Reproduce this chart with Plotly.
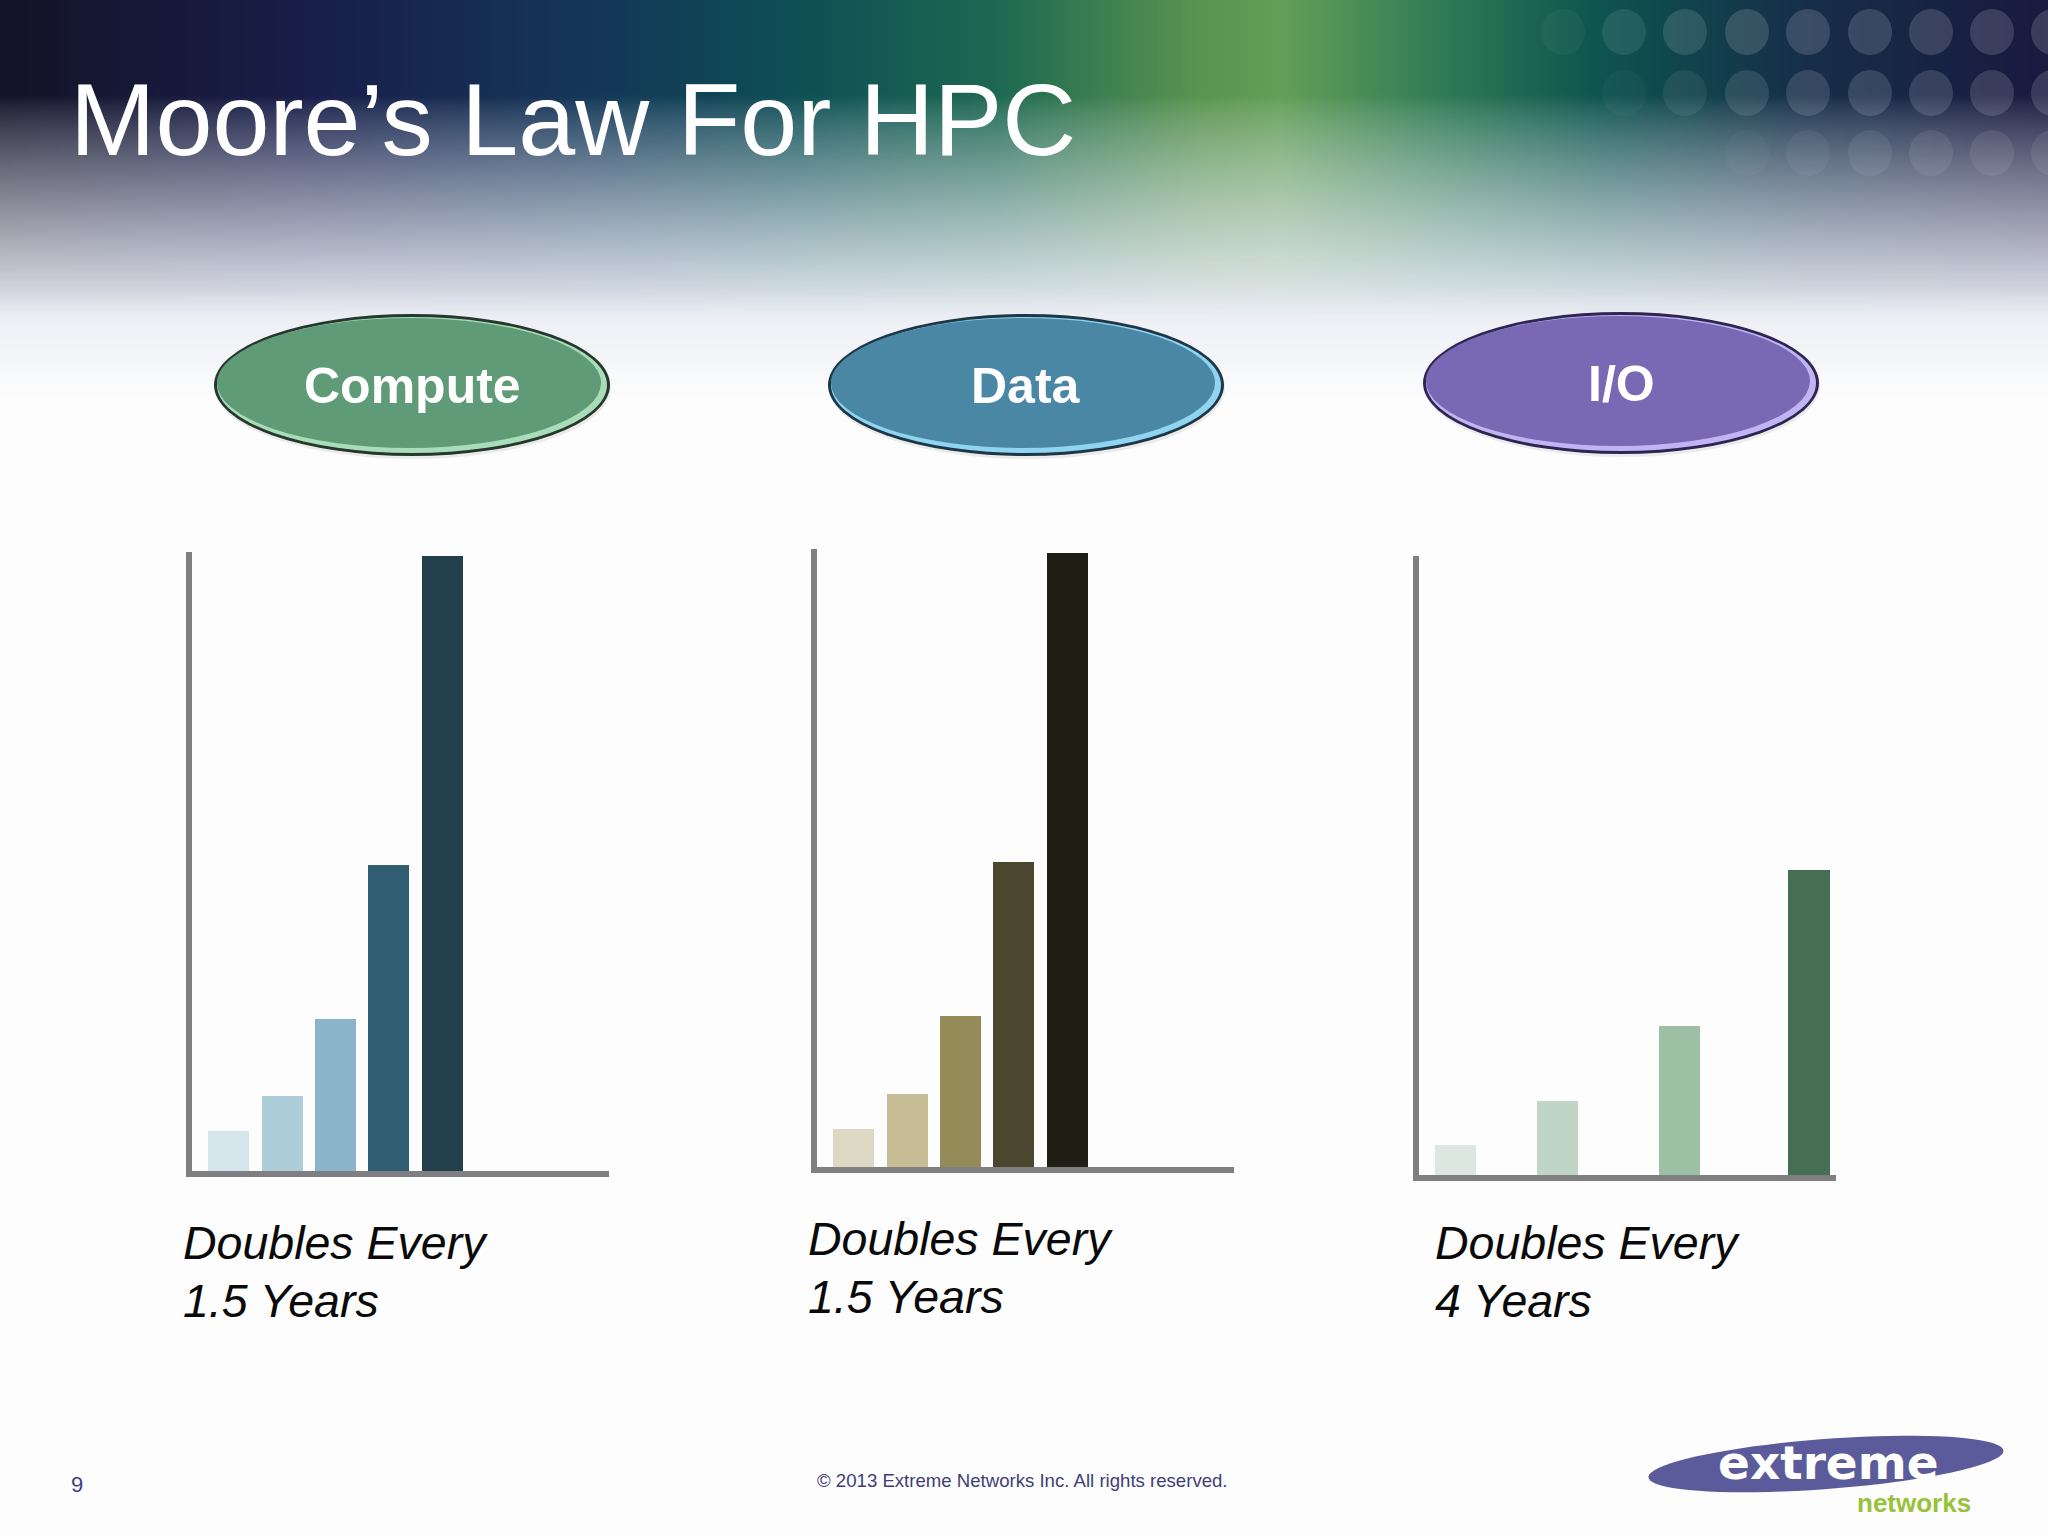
import base64
import struct
import zlib

import numpy as np
import plotly.graph_objects as go

W, H = 2048, 1536

# ---------------- data ----------------
title_text = "Moore’s Law For HPC"
categories = ["Compute", "Data", "I/O"]
caption_line1 = ["Doubles Every", "Doubles Every", "Doubles Every"]
caption_line2 = ["1.5 Years", "1.5 Years", "4 Years"]

compute_years = [0, 1.5, 3, 4.5, 6]
compute_values = [1.04, 1.95, 3.95, 7.97, 16.0]

data_years = [0, 1.5, 3, 4.5, 6]
data_values = [0.99, 1.91, 3.93, 7.95, 15.99]

io_years = [0, 2.86, 6.3, 9.94]
io_values = [0.78, 1.93, 3.87, 7.93]

footer_page = "9"
footer_copy = "© 2013 Extreme Networks Inc. All rights reserved."

# ---------------- styles ----------------
compute_colors = ["#d4e6ec", "#adcdd8", "#8ab4c9", "#2f5e72", "#233f4b"]
data_colors = ["#dcd8c4", "#c6bc96", "#958b59", "#4a472e", "#1f1e14"]
io_colors = ["#dde7e2", "#bfd5c6", "#9dbfa4", "#466e52"]

FONT = "Liberation Sans, Arial, sans-serif"


def X(px):
    return px / W


def Y(py):
    return 1 - py / H


def png_data_uri(arr):
    h, w, _ = arr.shape
    raw = b"".join(b"\x00" + arr[r].tobytes() for r in range(h))

    def chunk(tag, data):
        return (struct.pack(">I", len(data)) + tag + data
                + struct.pack(">I", zlib.crc32(tag + data) & 0xFFFFFFFF))

    png = (b"\x89PNG\r\n\x1a\n"
           + chunk(b"IHDR", struct.pack(">IIBBBBB", w, h, 8, 2, 0, 0, 0))
           + chunk(b"IDAT", zlib.compress(raw, 9))
           + chunk(b"IEND", b""))
    return "data:image/png;base64," + base64.b64encode(png).decode()


# ---------------- background header gradient (decoration) ----------------
BG_H = 420
xs_ctrl = [0, 300, 600, 800, 1000, 1200, 1280, 1450, 1600, 1800, 2048]
r_ctrl = [20, 25, 20, 14, 31, 90, 100, 46, 14, 23, 26]
g_ctrl = [20, 30, 56, 80, 106, 149, 160, 122, 85, 48, 26]
b_ctrl = [40, 74, 88, 85, 82, 80, 88, 85, 80, 74, 64]

cols = np.arange(0, W + 1, 8)
rows = np.arange(0, BG_H + 1, 4)
top = np.stack([np.interp(cols, xs_ctrl, c) for c in (r_ctrl, g_ctrl, b_ctrl)], axis=-1)
haze = np.array([232, 235, 243], dtype=float)
white = np.array([253, 253, 253], dtype=float)
img = np.zeros((len(rows), len(cols), 3))
for i, yy in enumerate(rows):
    f = np.clip((yy - 95) / 225.0, 0, 1) ** 0.8
    c = top * (1 - f) + haze * f
    g = np.clip((yy - 290) / 110.0, 0, 1)
    c = c * (1 - g) + white * g
    img[i] = c
img = np.clip(img, 0, 255).astype(np.uint8)
bg_uri = png_data_uri(img)

fig = go.Figure()

# ---------------- bar panels ----------------
panels = [
    dict(x=compute_years, y=compute_values, colors=compute_colors, dom=(192, 609, 552, 1171)),
    dict(x=data_years, y=data_values, colors=data_colors, dom=(817, 1234, 549, 1167)),
    dict(x=io_years, y=io_values, colors=io_colors, dom=(1419, 1836, 556, 1175)),
]

layout_axes = {}
for k, p in enumerate(panels):
    n = "" if k == 0 else str(k + 1)
    fig.add_trace(go.Bar(x=p["x"], y=p["y"], width=1.155,
                         marker=dict(color=p["colors"], line=dict(width=0)),
                         xaxis=f"x{n}", yaxis=f"y{n}", hoverinfo="skip", showlegend=False))
    x0, x1, ytop, ybot = p["dom"]
    layout_axes[f"xaxis{n}"] = dict(domain=[X(x0), X(x1)], range=[-1.04, 10.7],
                                    showline=True, linecolor="#7f7f82", linewidth=6,
                                    showgrid=False, zeroline=False, showticklabels=False,
                                    ticks="", anchor=f"y{n}", fixedrange=True)
    layout_axes[f"yaxis{n}"] = dict(domain=[Y(ybot), Y(ytop)], range=[0, 16.1],
                                    showline=True, linecolor="#7f7f82", linewidth=6,
                                    showgrid=False, zeroline=False, showticklabels=False,
                                    ticks="", anchor=f"x{n}", fixedrange=True)

shapes = []
annotations = []

# ---------------- header dots ----------------
dot_x = [1563, 1624, 1685, 1747, 1808, 1870, 1931, 1992, 2053]
dot_rows = [
    (32, [0.04, 0.09, 0.12, 0.14, 0.15, 0.15, 0.15, 0.15, 0.15]),
    (93, [0.0, 0.03, 0.07, 0.11, 0.13, 0.14, 0.14, 0.14, 0.14]),
    (153, [0.0, 0.0, 0.0, 0.03, 0.05, 0.07, 0.08, 0.08, 0.08]),
]
for cy, ops in dot_rows:
    for cx, op in zip(dot_x, ops):
        if op <= 0:
            continue
        shapes.append(dict(type="circle", xref="paper", yref="paper",
                           x0=X(cx - 22), x1=X(cx + 22), y0=Y(cy + 23), y1=Y(cy - 23),
                           fillcolor="white", opacity=op, line=dict(width=0), layer="above"))

# ---------------- category ellipses ----------------
ell = [
    dict(cx=412, cy=385, fill="#5f9b76", hi="#a9ddb7", edge="#26382d"),
    dict(cx=1026, cy=385, fill="#4a87a4", hi="#8fd4f0", edge="#1e3746"),
    dict(cx=1621, cy=383, fill="#7968b3", hi="#c2b4f4", edge="#2c2650"),
]
rx, ry = 198, 71
for e, label in zip(ell, categories):
    cx, cy = e["cx"], e["cy"]
    shapes.append(dict(type="circle", xref="paper", yref="paper",
                       x0=X(cx - rx + 1), x1=X(cx + rx + 1), y0=Y(cy + ry + 3), y1=Y(cy - ry + 3),
                       fillcolor="rgba(0,0,0,0.07)", line=dict(width=0), layer="above"))
    shapes.append(dict(type="circle", xref="paper", yref="paper",
                       x0=X(cx - rx), x1=X(cx + rx), y0=Y(cy + ry), y1=Y(cy - ry),
                       fillcolor=e["edge"], line=dict(width=0), layer="above"))
    shapes.append(dict(type="circle", xref="paper", yref="paper",
                       x0=X(cx - rx + 3), x1=X(cx + rx - 3), y0=Y(cy + ry - 3), y1=Y(cy - ry + 3),
                       fillcolor=e["hi"], line=dict(width=0), layer="above"))
    shapes.append(dict(type="circle", xref="paper", yref="paper",
                       x0=X(cx - 3 - (rx - 6)), x1=X(cx - 3 + (rx - 6)),
                       y0=Y(cy - 2 + (ry - 6)), y1=Y(cy - 2 - (ry - 6)),
                       fillcolor=e["fill"], line=dict(width=0), layer="above"))
    annotations.append(dict(text=f"<b>{label}</b>", x=X(cx), y=Y(cy + 1), xref="paper", yref="paper",
                            xanchor="center", yanchor="middle", showarrow=False,
                            font=dict(family=FONT, size=50, color="white")))

# ---------------- captions ----------------
cap_pos = [(181, 1243), (806, 1239), (1433, 1243)]
for (lx, ly), l1, l2 in zip(cap_pos, caption_line1, caption_line2):
    for txt, yy in ((l1, ly), (l2, ly + 58)):
        annotations.append(dict(text=f"<i>{txt}</i>", x=X(lx), y=Y(yy), xref="paper", yref="paper",
                                xanchor="left", yanchor="middle", showarrow=False,
                                font=dict(family=FONT, size=46.5, color="#0a0a0a")))

# ---------------- title ----------------
annotations.append(dict(text=title_text, x=X(68), y=Y(119), xref="paper", yref="paper",
                        xanchor="left", yanchor="middle", showarrow=False,
                        font=dict(family=FONT, size=102.5, color="white")))

# ---------------- footer ----------------
annotations.append(dict(text=footer_page, x=X(77), y=Y(1484), xref="paper", yref="paper",
                        xanchor="center", yanchor="middle", showarrow=False,
                        font=dict(family=FONT, size=22, color="#3d3f86")))
annotations.append(dict(text=footer_copy, x=X(1022), y=Y(1480), xref="paper", yref="paper",
                        xanchor="center", yanchor="middle", showarrow=False,
                        font=dict(family=FONT, size=18.6, color="#3f3d78")))

# ---------------- logo ----------------
t = np.linspace(0, 2 * np.pi, 80)
ang = np.deg2rad(-4.3)
lcx, lcy, lrx, lry = 1826, 1464, 178, 25
ex = lcx + lrx * np.cos(t) * np.cos(ang) - lry * np.sin(t) * np.sin(ang)
ey = lcy + lrx * np.cos(t) * np.sin(ang) + lry * np.sin(t) * np.cos(ang)
path = "M " + " L ".join(f"{X(a):.5f},{Y(b):.5f}" for a, b in zip(ex, ey)) + " Z"
shapes.append(dict(type="path", path=path, xref="paper", yref="paper",
                   fillcolor="#5b5b9c", line=dict(width=0), layer="above"))
annotations.append(dict(text="<b>extreme</b>", x=X(1828), y=Y(1462), xref="paper", yref="paper",
                        xanchor="center", yanchor="middle", showarrow=False,
                        font=dict(family="DejaVu Sans, Liberation Sans, sans-serif", size=47, color="white")))
annotations.append(dict(text="<b>networks</b>", x=X(1914), y=Y(1503), xref="paper", yref="paper",
                        xanchor="center", yanchor="middle", showarrow=False,
                        font=dict(family=FONT, size=26, color="#97c23c")))

fig.update_layout(
    width=W, height=H,
    margin=dict(l=0, r=0, t=0, b=0),
    paper_bgcolor="#fdfdfd", plot_bgcolor="rgba(0,0,0,0)",
    showlegend=False, hovermode=False,
    images=[dict(source=bg_uri, xref="paper", yref="paper", x=0, y=1,
                 sizex=1, sizey=BG_H / H, sizing="stretch",
                 xanchor="left", yanchor="top", layer="below")],
    shapes=shapes, annotations=annotations,
    bargap=0,
    **layout_axes,
)

fig.write_html("out.html", config={"displayModeBar": False},
               post_script="document.body.style.margin='0px';document.body.style.padding='0px';")
